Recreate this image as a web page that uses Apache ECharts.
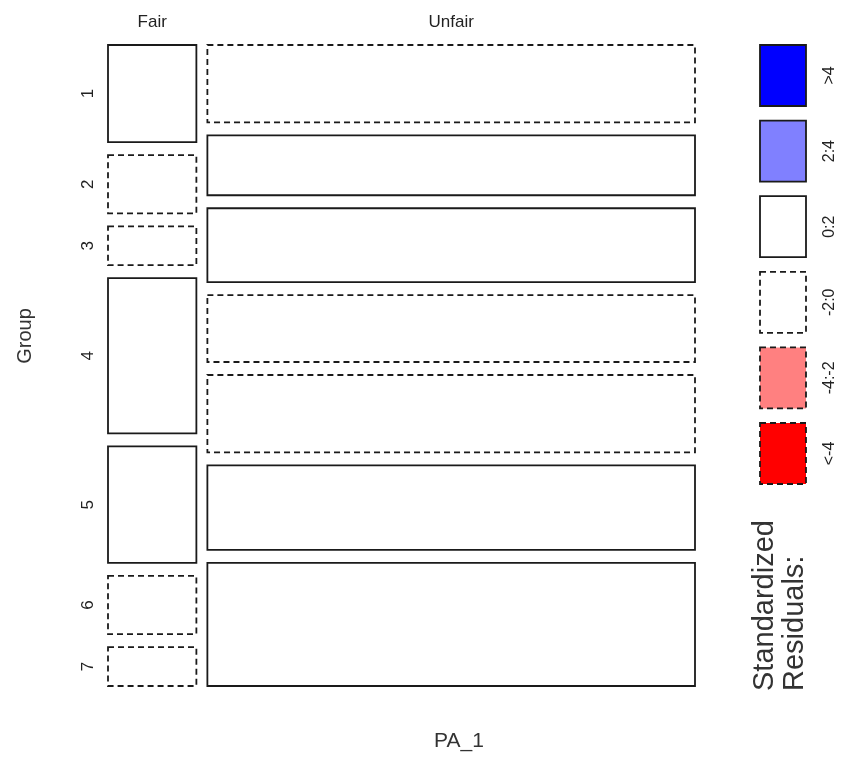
<!DOCTYPE html>
<html><head><meta charset="utf-8">
<script src="https://cdn.jsdelivr.net/npm/echarts@6/dist/echarts.min.js"></script>
<style>html,body{margin:0;padding:0;background:#fff}#c{width:843px;height:763px}</style>
</head><body><div id="c"></div>
<script>
// ---- data ----
const groups = ['1', '2', '3', '4', '5', '6', '7'];
const columns = ['Fair', 'Unfair'];
const fairCounts = [5, 3, 2, 8, 6, 3, 2];
const unfairCounts = [22, 17, 21, 19, 22, 24, 35];
const legendLabels = ['>4', '2:4', '0:2', '-2:0', '-4:-2', '<-4'];
const legendColors = ['#0000FF', '#8080FF', '#FFFFFF', '#FFFFFF', '#FF8080', '#FF0000'];
const legendDashed = [false, false, false, true, true, true];

// ---- layout / mosaic computation ----
const FONT = 'Liberation Sans, Arial, sans-serif';
const STROKE = '#1a1a1a';
const counts = [fairCounts, unfairCounts];
const colTot = counts.map(c => c.reduce((a, b) => a + b, 0));
const N = colTot[0] + colTot[1];
const rowTot = groups.map((g, i) => fairCounts[i] + unfairCounts[i]);
const xGap = 11 / 587, yGap = 13 / 641;
const cells = [];
let xs = 0;
columns.forEach((col, j) => {
  const w = (1 - xGap) * colTot[j] / N;
  let ys = 0;
  groups.forEach((g, i) => {
    const h = (1 - (groups.length - 1) * yGap) * counts[j][i] / colTot[j];
    const e = rowTot[i] * colTot[j] / N;
    const res = (counts[j][i] - e) / Math.sqrt(e);
    cells.push([xs, xs + w, ys, ys + h, res, j, i]);
    ys += h + yGap;
  });
  xs += w + xGap;
});
function fillFor(r) {
  if (r > 4) return legendColors[0];
  if (r > 2) return legendColors[1];
  if (r >= -2) return '#FFFFFF';
  if (r >= -4) return legendColors[4];
  return legendColors[5];
}

const chart = echarts.init(document.getElementById('c'), null, {renderer: 'canvas'});

const legendGraphics = [];
const lgTop = 45, lgStep = 75.6, lgH = 61;
legendLabels.forEach((lab, k) => {
  const y = lgTop + k * lgStep;
  legendGraphics.push({
    type: 'rect', shape: {x: 760, y: y, width: 46, height: lgH},
    style: {fill: legendColors[k], stroke: STROKE, lineWidth: 1.8, lineDash: legendDashed[k] ? [6, 4] : null}
  });
  legendGraphics.push({
    type: 'text', x: 830, y: y + lgH / 2, rotation: Math.PI / 2,
    style: {text: lab, font: '16px ' + FONT, fill: '#222', align: 'center', verticalAlign: 'middle'}
  });
});
legendGraphics.push({
  type: 'text', x: 765, y: 691, rotation: Math.PI / 2,
  style: {text: 'Standardized', font: '29px ' + FONT, fill: '#333', align: 'left', verticalAlign: 'middle'}
});
legendGraphics.push({
  type: 'text', x: 795, y: 691, rotation: Math.PI / 2,
  style: {text: 'Residuals:', font: '29px ' + FONT, fill: '#333', align: 'left', verticalAlign: 'middle'}
});
legendGraphics.push({
  type: 'text', x: 25, y: 336, rotation: Math.PI / 2,
  style: {text: 'Group', font: '20px ' + FONT, fill: '#333', align: 'center', verticalAlign: 'middle'}
});
legendGraphics.push({
  type: 'text', x: 459, y: 741,
  style: {text: 'PA_1', font: '21px ' + FONT, fill: '#333', align: 'center', verticalAlign: 'middle'}
});

chart.setOption({
  animation: false,
  backgroundColor: '#fff',
  grid: {left: 108, right: 148, top: 45, bottom: 77},
  xAxis: {type: 'value', min: 0, max: 1, show: false},
  yAxis: {type: 'value', min: 0, max: 1, inverse: true, show: false},
  graphic: legendGraphics,
  series: [{
    type: 'custom',
    data: cells,
    encode: {x: [0, 1], y: [2, 3]},
    renderItem: function (params, api) {
      const x0 = api.value(0), x1 = api.value(1), y0 = api.value(2), y1 = api.value(3);
      const res = api.value(4), j = api.value(5), i = api.value(6);
      const p0 = api.coord([x0, y0]), p1 = api.coord([x1, y1]);
      const children = [{
        type: 'rect',
        shape: {x: p0[0], y: Math.min(p0[1], p1[1]), width: p1[0] - p0[0], height: Math.abs(p1[1] - p0[1])},
        style: {fill: fillFor(res), stroke: STROKE, lineWidth: 1.8, lineDash: res < 0 ? [6, 4] : null}
      }];
      if (j === 0) {
        children.push({
          type: 'text', x: p0[0] - 20, y: (p0[1] + p1[1]) / 2, rotation: Math.PI / 2,
          style: {text: groups[i], font: '17px ' + FONT, fill: '#222', align: 'center', verticalAlign: 'middle'}
        });
      }
      if (i === 0) {
        children.push({
          type: 'text', x: (p0[0] + p1[0]) / 2, y: p0[1] - 23,
          style: {text: columns[j], font: '17px ' + FONT, fill: '#222', align: 'center', verticalAlign: 'middle'}
        });
      }
      return {type: 'group', children: children};
    }
  }]
});
</script></body></html>
